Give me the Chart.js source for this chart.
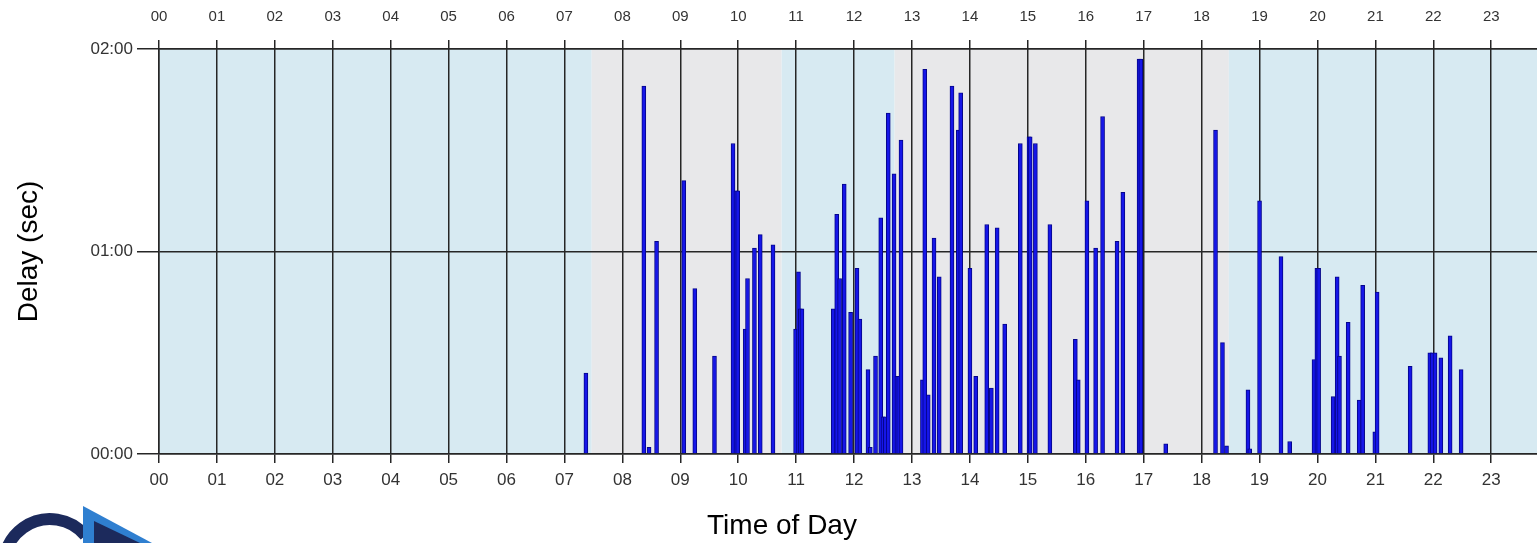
<!DOCTYPE html>
<html>
<head>
<meta charset="utf-8">
<title>Delay by time of day</title>
<script src="https://cdn.jsdelivr.net/npm/chart.js@4.4.1/dist/chart.umd.min.js"></script>
<style>
  html, body { margin: 0; padding: 0; background: #fff; }
  #wrap { width: 1537px; height: 543px; position: relative; }
</style>
</head>
<body>
<div id="wrap"><canvas id="delayChart" width="1537" height="543"></canvas></div>
<script>
// time of day (hours) of each delay event
const eventHours = [
  7.37, 8.37, 8.46, 8.59, 9.06, 9.25, 9.59, 9.91, 9.96, 9.99,
  10.12, 10.16, 10.28, 10.38, 10.6, 10.99, 11.04, 11.07, 11.1,
  11.64, 11.7, 11.75, 11.83, 11.94, 12.05, 12.1, 12.24, 12.28, 12.37,
  12.46, 12.5, 12.54, 12.59, 12.69, 12.74, 12.77, 12.81,
  13.18, 13.22, 13.28, 13.38, 13.47, 13.69, 13.8, 13.84,
  14.0, 14.1, 14.29, 14.37, 14.47, 14.6, 14.87,
  15.02, 15.04, 15.13, 15.38, 15.82, 15.87,
  16.02, 16.17, 16.29, 16.54, 16.64, 16.92, 16.95, 17.38,
  18.24, 18.36, 18.43, 18.8, 18.83, 19.0, 19.37, 19.52, 19.94,
  19.99, 20.02, 20.27, 20.34, 20.38, 20.53, 20.72, 20.78, 20.99, 21.03,
  21.6, 21.94, 21.98, 22.03, 22.13, 22.29, 22.48
];
// delay in seconds for each event
const delaySeconds = [
  24, 109, 2, 63, 81, 49, 29, 92, 78, 78,
  37, 52, 61, 65, 62, 37, 54, 43, 43,
  43, 71, 52, 80, 42, 55, 40, 25, 2, 29,
  70, 11, 11, 101, 83, 23, 23, 93,
  22, 114, 17.5, 64, 52.5, 109, 96, 107,
  55, 23, 68, 19.5, 67, 38.5, 92,
  94, 94, 92, 68, 34, 22,
  75, 61, 100, 63, 77.5, 117, 117, 3,
  96, 33, 2.4, 19, 1.5, 75, 58.5, 3.7, 28,
  55, 55, 17, 52.5, 29, 39, 16, 50, 6.6, 48,
  26, 30, 30, 30, 28.5, 35, 25
];

// shaded periods of the day
const bandStart = [0, 7.47, 10.75, 12.7, 18.47];
const bandEnd   = [7.47, 10.75, 12.7, 18.47, 24];
const bandColor = ['#d7eaf2', '#e8e8ea', '#d7eaf2', '#e8e8ea', '#d7eaf2'];

const hourTicks = [];
for (let h = 0; h <= 23; h++) hourTicks.push(h);

const twoDigits = v => String(v).padStart(2, '0');
const mmss = v => twoDigits(Math.floor(v / 60)) + ':' + twoDigits(Math.round(v % 60));

const points = eventHours.map((h, i) => ({ x: h, y: delaySeconds[i] }));

// background bands, x title, little logo
const decorPlugin = {
  id: 'decor',
  beforeDraw(chart) {
    const { ctx, chartArea, scales } = chart;
    ctx.save();
    bandStart.forEach((s, i) => {
      const x1 = Math.max(scales.x.getPixelForValue(s), chartArea.left);
      const x2 = Math.min(scales.x.getPixelForValue(bandEnd[i]), chartArea.right);
      ctx.fillStyle = bandColor[i];
      ctx.fillRect(x1, chartArea.top, x2 - x1, chartArea.bottom - chartArea.top);
    });
    ctx.restore();
  },
  afterDraw(chart) {
    const { ctx, chartArea } = chart;
    ctx.save();
    ctx.fillStyle = '#000';
    ctx.font = '28px "Liberation Sans", Arial, sans-serif';
    ctx.textAlign = 'center';
    ctx.textBaseline = 'middle';
    ctx.fillText('Time of Day', (chartArea.left + chartArea.right) / 2 - 66, 526);

    // logo fragment
    ctx.strokeStyle = '#1c2a5c';
    ctx.lineWidth = 12;
    ctx.beginPath();
    ctx.arc(50, 565, 46, Math.PI * 1.05, Math.PI * 1.78);
    ctx.stroke();
    ctx.fillStyle = '#2f7fd0';
    ctx.beginPath();
    ctx.moveTo(83, 506); ctx.lineTo(152, 543); ctx.lineTo(83, 543); ctx.closePath();
    ctx.fill();
    ctx.fillStyle = '#1c2a5c';
    ctx.beginPath();
    ctx.moveTo(94, 521); ctx.lineTo(140, 543); ctx.lineTo(94, 543); ctx.closePath();
    ctx.fill();
    ctx.restore();
  }
};

const gridColor = '#262626';

new Chart(document.getElementById('delayChart'), {
  type: 'bar',
  data: {
    datasets: [{
      label: 'Delay',
      data: points,
      xAxisID: 'x',
      backgroundColor: '#1616e8',
      borderColor: '#05058a',
      borderWidth: 1,
      barThickness: 4
    }]
  },
  options: {
    responsive: false,
    animation: false,
    layout: { padding: 0 },
    plugins: { legend: { display: false }, tooltip: { enabled: false } },
    scales: {
      x: {
        type: 'linear',
        position: 'bottom',
        min: 0,
        max: 23.79,
        offset: false,
        afterFit: s => { s.height = 89; },
        afterBuildTicks: s => { s.ticks = hourTicks.map(v => ({ value: v })); },
        ticks: {
          includeBounds: false,
          autoSkip: false,
          maxRotation: 0,
          padding: 7,
          color: '#333',
          font: { family: '"Liberation Sans", Arial, sans-serif', size: 17 },
          callback: v => twoDigits(v)
        },
        grid: { offset: false, color: gridColor, lineWidth: 1.5, tickLength: 9 },
        border: { display: true, color: gridColor, width: 1.5 }
      },
      x2: {
        type: 'linear',
        position: 'top',
        min: 0,
        max: 23.79,
        offset: false,
        afterFit: s => { s.height = 49; },
        afterBuildTicks: s => { s.ticks = hourTicks.map(v => ({ value: v })); },
        ticks: {
          includeBounds: false,
          autoSkip: false,
          maxRotation: 0,
          padding: 14,
          color: '#333',
          font: { family: '"Liberation Sans", Arial, sans-serif', size: 15 },
          callback: v => twoDigits(v)
        },
        grid: { offset: false, drawOnChartArea: false, color: gridColor, lineWidth: 1.5, tickLength: 9 },
        border: { display: true, color: gridColor, width: 1.5 }
      },
      y: {
        min: 0,
        max: 120,
        afterFit: s => { s.width = 159; },
        ticks: {
          stepSize: 60,
          padding: 4,
          color: '#333',
          font: { family: '"Liberation Sans", Arial, sans-serif', size: 17 },
          callback: v => mmss(v)
        },
        grid: { color: gridColor, lineWidth: 1.5, tickLength: 22 },
        border: { display: true, color: gridColor, width: 1.5 },
        title: {
          display: true,
          text: 'Delay (sec)',
          color: '#000',
          padding: { top: 12, bottom: 0 },
          font: { family: '"Liberation Sans", Arial, sans-serif', size: 28 }
        }
      }
    }
  },
  plugins: [decorPlugin]
});
</script>
</body>
</html>
